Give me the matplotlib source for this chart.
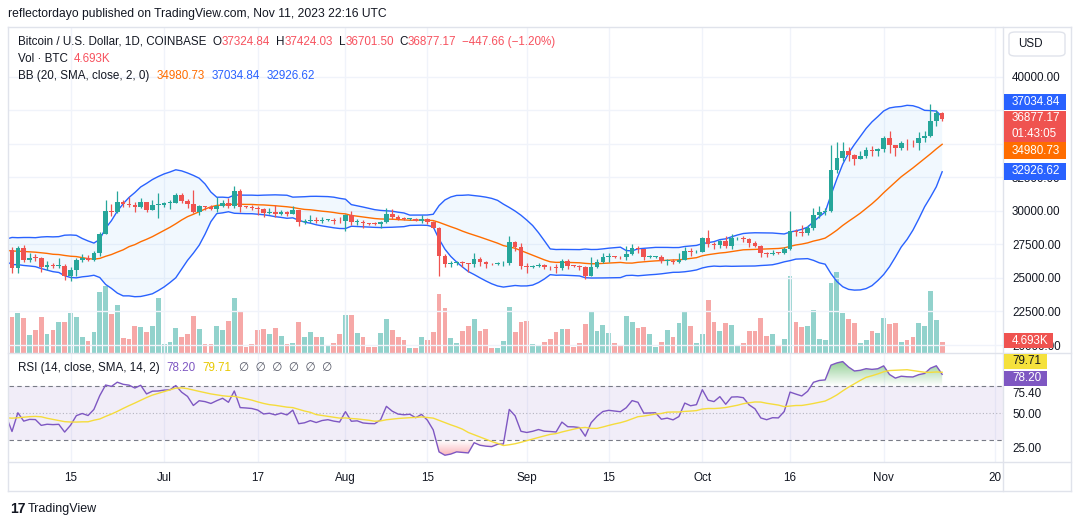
import numpy as np
import pandas as pd
import matplotlib.pyplot as plt
from matplotlib.patches import Rectangle, FancyBboxPatch
from matplotlib.lines import Line2D
from matplotlib.path import Path
from matplotlib.colors import to_rgb

plt.rcParams['font.family'] = ['Liberation Sans', 'DejaVu Sans']

W, H = 1080, 527

# closes before the visible range (Apr 1 - Jun 4, 2023), only used to warm up BB / RSI
prior_close = [28470, 28200, 27790, 28170, 28170, 28030, 27920, 27950, 28330, 29650,
               30230, 29890, 30400, 30480, 30320, 30310, 29440, 30390, 28820, 28250,
               27270, 27820, 27600, 27520, 28310, 28420, 29480, 29320, 29240, 29230,
               28070, 28680, 29030, 28850, 29530, 28900, 28450, 27690, 27630, 27620,
               26990, 26800, 26790, 26920, 27170, 27030, 27400, 26830, 26890, 27120,
               26750, 26850, 27220, 26330, 26480, 26720, 26870, 28090, 27750, 27700,
               27220, 26820, 27250, 27070, 27120]

start_date = "2023-06-05"

# daily BTC/USD candles, Jun 5 - Nov 11 2023 (open = previous close)
close = [25740, 27240, 26340, 26500, 26480, 25850, 25940, 25900, 25920, 25120,
         25580, 26330, 26510, 26340, 26840, 28310, 30000, 29890, 30690, 30530,
         30470, 30270, 30690, 30080, 30450, 30480, 30590, 30620, 31160, 30770,
         30510, 29900, 30350, 30290, 30170, 30410, 30620, 30390, 31470, 30320,
         30290, 30250, 30140, 29860, 29910, 29800, 29910, 29800, 30080, 29180,
         29230, 29350, 29220, 29320, 29360, 29280, 29230, 29700, 29180, 29200,
         29080, 29050, 29040, 29180, 29770, 29560, 29430, 29400, 29420, 29280,
         29400, 29170, 28700, 26630, 26050, 26100, 26190, 26120, 26040, 26430,
         26160, 26060, 26010, 26090, 26100, 27720, 27300, 25930, 25800, 25870,
         25970, 25820, 25790, 25750, 26240, 25900, 25890, 25840, 25160, 25840,
         26220, 26530, 26610, 26570, 26530, 26760, 27210, 27130, 26570, 26580,
         26590, 26250, 26300, 26210, 26350, 27030, 26910, 26970, 27990, 27500,
         27430, 27790, 27410, 27950, 27970, 27930, 27590, 27390, 26870, 26760,
         26860, 26850, 27160, 28520, 28420, 28330, 28720, 29680, 29920, 29990,
         33090, 33920, 34500, 34160, 33910, 34090, 34530, 34490, 34650, 35420,
         34940, 34730, 35080, 35050, 35040, 35420, 35630, 36700, 37324.84, 36877.17]

high = [27340, 27360, 27460, 26840, 26780, 26530, 26270, 26090, 26520, 26080,
        25800, 26470, 26780, 26680, 27000, 28400, 30820, 30520, 31490, 30820,
        31050, 30650, 31000, 30700, 30830, 31320, 30660, 30790, 31370, 31320,
        30880, 31570, 30450, 30380, 30440, 31070, 30800, 30980, 31850, 31640,
        30400, 30440, 30340, 30250, 30190, 30450, 30060, 30000, 30350, 30100,
        29380, 29690, 29580, 29530, 29420, 29450, 29530, 29740, 30030, 29410,
        29320, 29110, 29180, 29250, 30200, 30140, 29700, 29540, 29460, 29460,
        29680, 29460, 29240, 28780, 26810, 26270, 26290, 26260, 26130, 26870,
        26560, 26290, 26100, 26170, 26250, 28170, 27760, 27580, 26140, 25970,
        26110, 26080, 25860, 26020, 26450, 26430, 25950, 25980, 25880, 26550,
        26390, 26890, 26840, 26670, 26630, 27420, 27510, 27380, 27150, 26730,
        26630, 26720, 26420, 26390, 26850, 27300, 27230, 27080, 28060, 28600,
        27680, 27830, 28130, 28290, 28040, 28130, 27990, 27740, 27480, 26940,
        27100, 26970, 27290, 30000, 28620, 28950, 28920, 30230, 30350, 30220,
        34960, 35150, 35150, 34800, 34250, 34480, 34770, 34850, 34730, 35560,
        35980, 34940, 35260, 35400, 35280, 35890, 35980, 37970, 37530, 37424.03]

low = [25400, 25400, 26170, 26230, 26300, 25470, 25610, 25720, 25720, 24850,
       24800, 25170, 26170, 26270, 26260, 26660, 28270, 29630, 29820, 30300,
       30290, 29950, 30240, 29900, 30040, 29500, 30330, 30180, 30580, 30630,
       30210, 29830, 29700, 30050, 30050, 29960, 30330, 30250, 30250, 29940,
       30250, 30080, 29670, 29570, 29760, 29560, 29730, 29600, 29740, 28880,
       29050, 29100, 29080, 29100, 29250, 29040, 29120, 28510, 28950, 28960,
       28760, 28970, 28980, 28710, 29110, 29370, 29330, 29330, 29360, 29260,
       29100, 29060, 28700, 25170, 25800, 25800, 26000, 25810, 25450, 25800,
       25870, 25780, 25970, 25980, 25880, 25960, 27050, 25660, 25350, 25720,
       25800, 25650, 25570, 25400, 25610, 25650, 25820, 25600, 24920, 25130,
       25770, 26130, 26220, 26470, 26400, 26380, 26680, 26850, 26380, 26480,
       26500, 26150, 25990, 26080, 26110, 26320, 26670, 26880, 26950, 27320,
       27160, 27220, 27220, 27180, 27860, 27700, 27300, 27310, 26550, 26560,
       26690, 26810, 26810, 27110, 28100, 28130, 28190, 28600, 29490, 29690,
       29900, 32850, 33710, 33730, 33400, 33880, 33950, 34080, 34080, 34420,
       34360, 34110, 34580, 34550, 34750, 34560, 35120, 35550, 36340, 36701.50]

# volume in thousands of BTC
volume_k = [15.8, 17.5, 15.3, 7.9, 10.0, 15.8, 8.4, 10.0, 13.5, 13.5,
            17.5, 15.7, 6.9, 5.1, 9.1, 26.7, 29.5, 17.0, 21.0, 6.5,
            6.0, 11.7, 11.3, 9.1, 11.7, 24.1, 3.8, 4.7, 10.9, 6.9,
            8.2, 16.1, 10.4, 3.8, 3.8, 11.7, 10.0, 13.9, 24.1, 17.9,
            2.5, 3.8, 10.0, 10.4, 8.2, 10.9, 7.3, 3.8, 4.3, 13.5,
            6.9, 9.1, 6.9, 6.9, 2.9, 4.3, 8.2, 16.6, 16.6, 8.7,
            6.9, 2.5, 2.5, 8.7, 14.8, 10.0, 6.9, 5.6, 2.1, 2.1,
            6.9, 5.6, 9.1, 25.8, 19.7, 6.5, 4.3, 9.5, 11.7, 14.8,
            9.5, 10.4, 2.1, 2.1, 5.1, 20.1, 9.1, 13.5, 13.9, 3.8,
            3.4, 4.7, 6.0, 9.1, 10.4, 10.4, 2.5, 4.3, 12.6, 18.3,
            9.5, 12.2, 8.7, 4.3, 3.4, 16.1, 13.5, 10.9, 11.3, 8.2,
            2.5, 4.7, 10.0, 6.9, 13.1, 17.9, 11.7, 4.3, 8.2, 23.2,
            13.5, 9.5, 13.1, 12.2, 3.4, 4.3, 9.5, 9.5, 15.3, 7.3,
            8.2, 2.9, 6.0, 33.7, 13.5, 11.3, 11.7, 18.8, 6.0, 5.6,
            30.7, 35.5, 17.5, 14.8, 13.1, 4.3, 5.6, 9.5, 8.7, 15.3,
            12.6, 13.1, 4.7, 5.6, 6.9, 13.1, 11.7, 27.1, 14.4, 4.693]

time_ticks = ["2023-06-15", "2023-07-01", "2023-07-17", "2023-08-01", "2023-08-15", "2023-09-01",
              "2023-09-15", "2023-10-01", "2023-10-16", "2023-11-01", "2023-11-20"]
time_labels = ["15", "Jul", "17", "Aug", "15", "Sep", "15", "Oct", "16", "Nov", "20"]

price_ticks = [20000, 22500, 25000, 27500, 30000, 32500, 35000, 37500, 40000]
# 35000 and 37500 sit completely under the last-value boxes, so no label there
price_labels = ["20000.00", "22500.00", "25000.00", "27500.00", "30000.00", "32500.00", "", "", "40000.00"]

# legend strings as shown on the chart
title_line = "reflectordayo published on TradingView.com, Nov 11, 2023 22:16 UTC"
ohlc_line = [("Bitcoin / U.S. Dollar, 1D, COINBASE", "k"), ("O", "k"), ("37324.84", "r"),
             ("H", "k"), ("37424.03", "r"), ("L", "k"), ("36701.50", "r"),
             ("C", "k"), ("36877.17", "r"), ("\u2212447.66 (\u22121.20%)", "r")]

UP, DOWN = "#26A69A", "#EF5350"
TXT = "#131722"
FRAME = "#e0e3eb"
GRID = "#f0f3fa"

# ---- indicators ----
n_prior = len(prior_close)
closes_all = pd.Series(prior_close + close, dtype=float)
x_all = np.arange(-n_prior, len(close))
x = np.arange(len(close))
c = np.array(close, dtype=float)
o = np.r_[prior_close[-1], c[:-1]]
hi = np.array(high)
lo = np.array(low)
vol = np.array(volume_k)
rising = c >= o

basis = closes_all.rolling(20).mean()
dev = closes_all.rolling(20).std(ddof=0)
bb_up = basis + 2 * dev
bb_lo = basis - 2 * dev


def rma(vals, n):
    out = np.full(len(vals), np.nan)
    out[n - 1] = vals[:n].mean()
    for i in range(n, len(vals)):
        out[i] = (out[i - 1] * (n - 1) + vals[i]) / n
    return out


chg = np.diff(closes_all.values)
gain = rma(np.clip(chg, 0, None), 14)
loss = rma(np.clip(-chg, 0, None), 14)
rsi = np.r_[np.nan, 100 - 100 / (1 + gain / loss)]
rsi_ma = pd.Series(rsi).rolling(14).mean().values

# ---- figure ----
def rect(x0, y0, x1, y1):
    return [x0 / W, 1 - y1 / H, (x1 - x0) / W, (y1 - y0) / H]


fig = plt.figure(figsize=(W / 100, H / 100), dpi=100)
fig.patch.set_facecolor("white")

ax = fig.add_axes(rect(9, 27, 1003, 353))
axv = ax.twinx()
axr = fig.add_axes(rect(9, 353, 1003, 462), sharex=ax)

ax.set_zorder(axv.get_zorder() + 1)
ax.patch.set_visible(False)

xlim = (-0.513, 169.4)
dates = pd.date_range(start_date, periods=len(close))
tick_idx = [(pd.Timestamp(d) - dates[0]).days for d in time_ticks]

# volume
vcol = np.where(rising, UP, DOWN)
axv.bar(x, vol, width=0.82, color=vcol, alpha=0.5, lw=0)
axv.set_ylim(0, 143)
axv.axis("off")

# bollinger bands
ax.fill_between(x_all, bb_lo, bb_up, color="#2196F3", alpha=0.06, lw=0)
ax.plot(x_all, bb_up, color="#2962FF", lw=1)
ax.plot(x_all, bb_lo, color="#2962FF", lw=1)
ax.plot(x_all, basis, color="#FF6D00", lw=1)

# candles
ccol = np.where(rising, UP, DOWN)
ax.vlines(x, lo, hi, colors=ccol, lw=0.9, zorder=3)
body = np.maximum(np.abs(c - o), 60)
ax.bar(x, body, bottom=np.minimum(o, c), width=0.8, color=ccol, lw=0, zorder=4)

ax.set_xlim(*xlim)
ax.set_ylim(19403, 43731)
ax.set_xticks(tick_idx)
ax.set_yticks(price_ticks)
ax.set_yticklabels(price_labels)
ax.yaxis.tick_right()
ax.tick_params(axis="y", length=0, pad=6.5, labelsize=8.4, labelcolor=TXT)
ax.tick_params(axis="x", length=0, labelbottom=False)
ax.grid(True, color=GRID, lw=1)
ax.set_axisbelow(True)
for sp in ax.spines.values():
    sp.set_visible(False)

# rsi pane
axr.axhspan(30, 70, color="#7E57C2", alpha=0.1, lw=0)
for lvl, a, ls in [(70, 1, (0, (4, 3))), (30, 1, (0, (4, 3))), (50, 0.5, (0, (1, 2)))]:
    axr.axhline(lvl, color="#787B86", alpha=a, lw=0.8, ls=ls)


def grad_fill(level, edge, color, above):
    where = rsi > level if above else rsi < level
    poly = axr.fill_between(x_all, rsi, level, where=where, interpolate=True,
                            facecolor="none", edgecolor="none")
    paths = poly.get_paths()
    if not paths:
        return
    path = Path.make_compound_path(*paths)
    n = 120
    img = np.zeros((n, 1, 4))
    img[..., :3] = to_rgb(color)
    a = np.linspace(0, 1, n)
    img[:, 0, 3] = a if above else a[::-1]
    y0, y1 = (level, edge) if above else (edge, level)
    im = axr.imshow(img, extent=(x_all[0], x_all[-1], y0, y1), origin="lower",
                    aspect="auto", interpolation="bilinear", zorder=1)
    im.set_clip_path(path, transform=axr.transData)


grad_fill(70, 100, "#4CAF50", True)
grad_fill(30, 0, "#F23645", False)
axr.plot(x_all, rsi, color="#7E57C2", lw=1, zorder=3)
axr.plot(x_all, rsi_ma, color="#F5DC3C", lw=1, zorder=3)

axr.set_xlim(*xlim)
axr.set_ylim(14.0, 94.1)
axr.set_xticks(tick_idx)
axr.set_xticklabels(time_labels)
axr.set_yticks([25, 50])
axr.set_yticklabels(["25.00", "50.00"])
axr.yaxis.tick_right()
axr.tick_params(axis="y", length=0, pad=6.5, labelsize=8.4, labelcolor=TXT)
axr.tick_params(axis="x", length=0, pad=7, labelsize=8.4, labelcolor=TXT)
axr.grid(True, axis="x", color=GRID, lw=1)
axr.set_axisbelow(True)
for sp in axr.spines.values():
    sp.set_visible(False)


# ---- frame ----
def hline(y, x0=8, x1=1071):
    fig.add_artist(Line2D([x0 / W, x1 / W], [1 - y / H] * 2, color=FRAME, lw=1))


def vline(xp, y0=27, y1=491):
    fig.add_artist(Line2D([xp / W] * 2, [1 - y0 / H, 1 - y1 / H], color=FRAME, lw=1))


for yy in (27, 353, 462, 491):
    hline(yy)
for xx in (8, 1003, 1071):
    vline(xx)

# ---- texts ----
renderer = fig.canvas.get_renderer()
RED, ORANGE, BLUE = "#F7525F", "#FF6D00", "#2962FF"
cmap = {"k": TXT, "r": RED}


def chain(x0, y, parts, gap=6, size=8.4):
    xp = x0
    for s, col in parts:
        t = fig.text(xp / W, 1 - y / H, s, color=cmap.get(col, col), fontsize=size,
                     va="center", ha="left")
        bb = t.get_window_extent(renderer)
        nxt = 0 if s in ("O", "H", "L", "C") else gap
        xp = bb.x1 + nxt


fig.text(8 / W, 1 - 14 / H, title_line, color=TXT, fontsize=8.7, va="center")
chain(18, 42, ohlc_line)
chain(18, 59, [("Vol \u00b7 BTC", "k"), ("4.693K", "r")])
chain(18, 76, [("BB (20, SMA, close, 2, 0)", "k"), ("34980.73", ORANGE),
               ("37034.84", BLUE), ("32926.62", BLUE)], gap=7)
chain(18, 368, [("RSI (14, close, SMA, 14, 2)", "k"), ("78.20", "#7E57C2"),
                ("79.71", "#E8C800"), ("\u2205  \u2205  \u2205  \u2205  \u2205  \u2205", "#555866")], gap=7)

fig.text(1012 / W, 1 - 394.3 / H, "75.40", color=TXT, fontsize=8.4, va="center")


def label_box(x0, y0, x1, y1, face, lines, tcol="white"):
    fig.add_artist(Rectangle((x0 / W, 1 - y1 / H), (x1 - x0) / W, (y1 - y0) / H,
                             transform=fig.transFigure, facecolor=face, edgecolor="none",
                             zorder=5))
    step = (y1 - y0) / len(lines)
    for k, s in enumerate(lines):
        fig.text(1012 / W, 1 - (y0 + step * (k + 0.5)) / H, s, color=tcol, fontsize=8.4,
                 va="center", ha="left", zorder=6)


label_box(1004, 94, 1066, 110, BLUE, ["37034.84"])
label_box(1004, 110.5, 1066, 141.5, "#EF5350", ["36877.17", "01:43:05"])
label_box(1004, 142.5, 1066, 158.5, ORANGE, ["34980.73"])
label_box(1004, 163.5, 1066, 179.5, BLUE, ["32926.62"])
label_box(1004, 332.7, 1053, 348.3, "#EF5350", ["4.693K"])
label_box(1004, 354, 1047, 368.5, "#F5E13C", ["79.71"], tcol=TXT)
label_box(1004, 370.7, 1047, 386, "#7E57C2", ["78.20"])

usd = FancyBboxPatch((1009 / W, 1 - 56 / H), 56 / W, 24 / H, transform=fig.transFigure,
                     boxstyle="round,pad=0,rounding_size=0.006", facecolor="white",
                     edgecolor=FRAME, lw=1, zorder=5)
fig.add_artist(usd)
fig.text(1018 / W, 1 - 44 / H, "USD", color=TXT, fontsize=8.4, va="center", zorder=6)

fig.text(10 / W, 1 - 509 / H, "17", color=TXT, fontsize=10, fontweight="heavy", va="center")
fig.text(28 / W, 1 - 509 / H, "TradingView", color=TXT, fontsize=9, va="center")

fig.savefig("out.png", dpi=100)
